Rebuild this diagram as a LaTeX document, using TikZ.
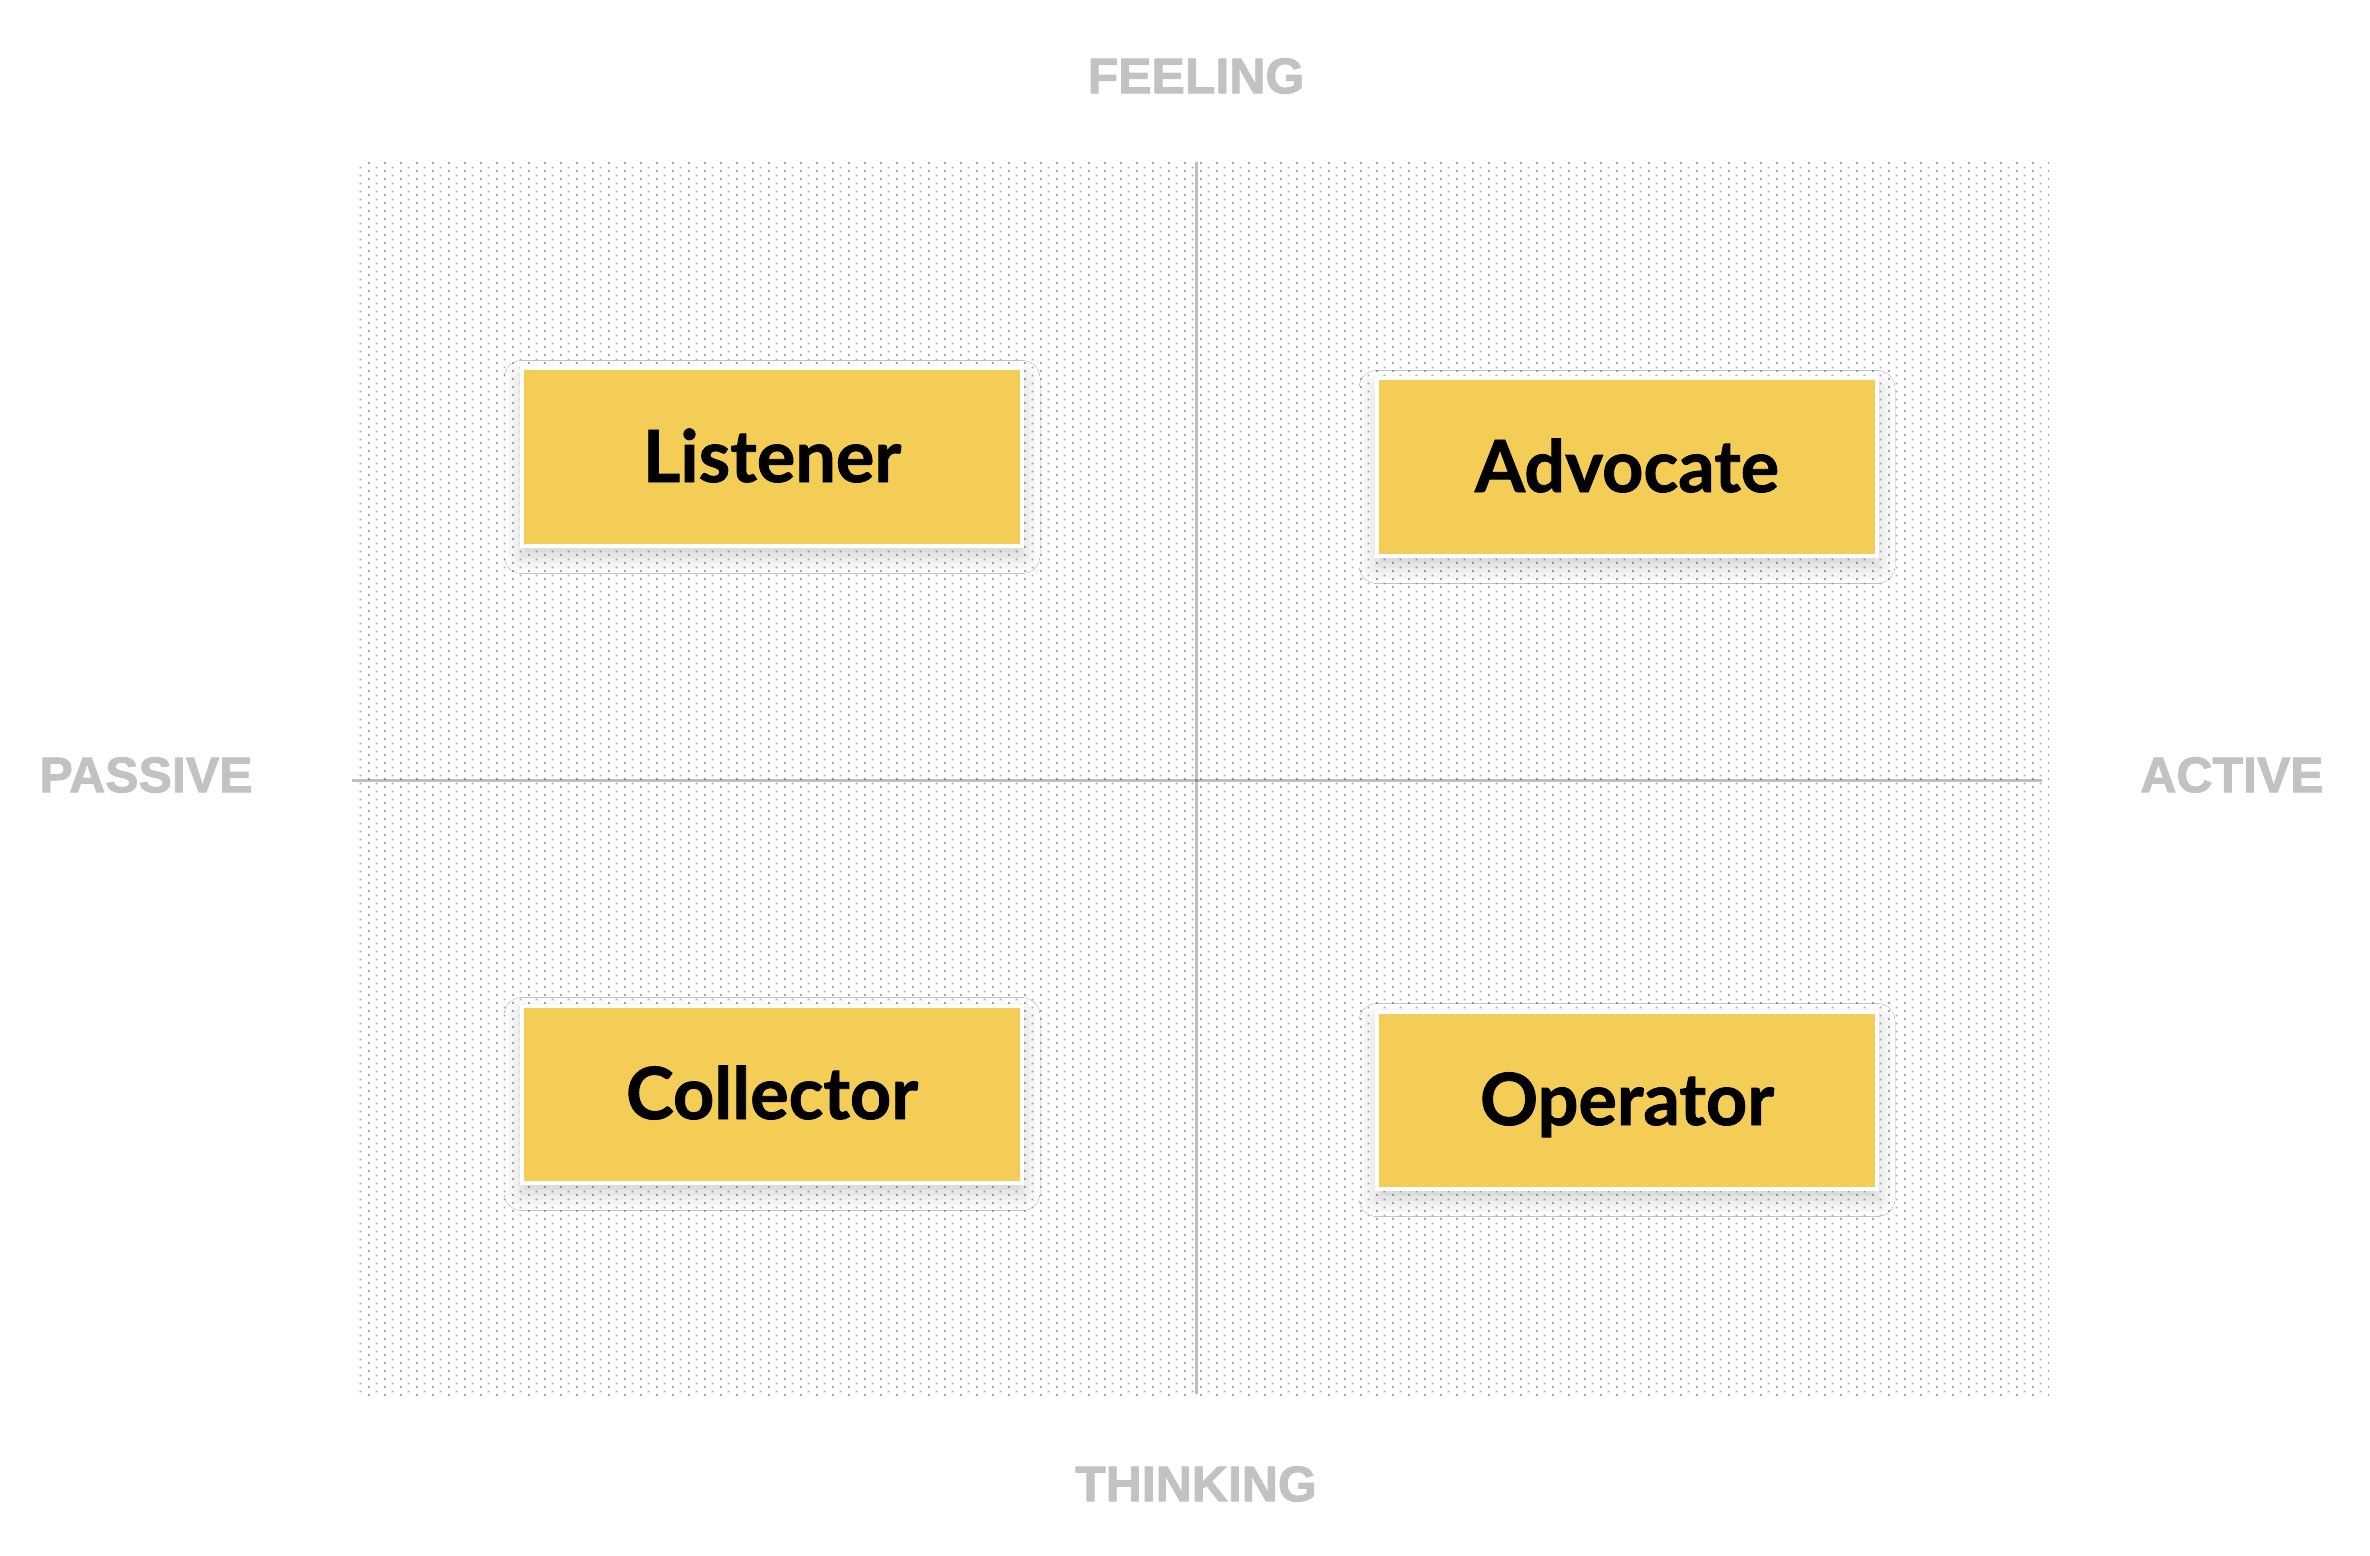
\documentclass[tikz,border=0pt]{standalone}
\usepackage{fontspec}
\setmainfont{Liberation Sans}
\newfontfamily\boxfont{Lato}[BoldFeatures={FakeBold=1.2}]
\newfontfamily\axisfont{Liberation Sans}[BoldFeatures={FakeBold=1.8}]
\usetikzlibrary{patterns.meta,shadows.blur}
\definecolor{dotgray}{HTML}{A6A6A6}
\definecolor{axislabel}{HTML}{C2C2C2}
\definecolor{boxyellow}{HTML}{F4CD56}
\tikzdeclarepattern{
  name=stagdots,
  type=uncolored,
  bounding box={(0pt,0pt) and (8pt,4pt)},
  tile size={(8pt,4pt)},
  code={
    \fill (0pt,0pt) rectangle (1pt,1pt);
    \fill (4pt,2pt) rectangle (5pt,3pt);
  }
}
\tikzset{
  quadbox/.style={
    draw=white, line width=2pt, fill=boxyellow,
    minimum width=250pt, minimum height=88.5pt,
    inner sep=0pt, text height=25pt, text depth=0pt,
    font=\boxfont\bfseries\fontsize{36}{42}\selectfont,
    blur shadow={shadow xshift=0pt, shadow yshift=-5pt, shadow blur radius=9pt, shadow opacity=20}
  },
  axislbl/.style={
    text=axislabel, inner sep=0pt,
    font=\axisfont\bfseries\fontsize{25}{30}\selectfont
  },
  axisline/.style={draw=black, draw opacity=0.25, line width=1.5pt}
}
\begin{document}
\begin{tikzpicture}[x=0.5pt,y=-0.5pt]
  \useasboundingbox (0,0) rectangle (2370,1556);
  \fill[white] (0,0) rectangle (2370,1556);
  % dotted field
  \fill[pattern=stagdots, pattern color=dotgray] (355,163) rectangle (2049,1395);
  % axes
  \coordinate (axtop) at (1196,162);
  \coordinate (axbot) at (1196,1394);
  \coordinate (axleft) at (352,780);
  \coordinate (axright) at (2042,780);
  \draw[axisline] (axtop) -- (axbot);
  \draw[axisline] (axleft) -- (axright);
  % axis labels
  \node[axislbl] (feeling) at (1196,76) {FEELING};
  \node[axislbl] (thinking) at (1196,1484) {THINKING};
  \node[axislbl] (passive) at (146,775) {PASSIVE};
  \node[axislbl] (active) at (2232,775) {ACTIVE};
  % quadrant boxes
  \node[quadbox] (listener) at (772,457) {Listener};
  \node[quadbox] (advocate) at (1627,467) {Advocate};
  \node[quadbox] (collector) at (772,1094) {Collector};
  \node[quadbox] (operator) at (1627,1100) {Operator};
\end{tikzpicture}
\end{document}
